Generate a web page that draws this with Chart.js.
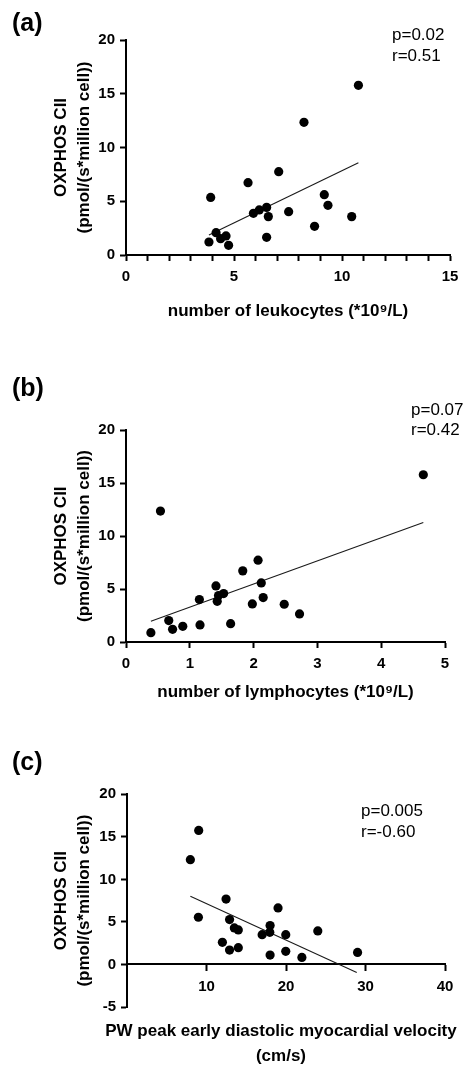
<!DOCTYPE html>
<html>
<head>
<meta charset="utf-8">
<script src="https://cdn.jsdelivr.net/npm/chart.js@4.4.1/dist/chart.umd.min.js"></script>
<style>
  html, body { margin: 0; padding: 0; background: #fff; overflow: hidden; }
  body { width: 467px; height: 1074px; position: relative; font-family: "Liberation Sans", Arial, sans-serif; color: #000; }
  canvas { position: absolute; left: 0; }
  .lbl { position: absolute; font-weight: bold; font-size: 25px; line-height: 25px; white-space: nowrap; }
  .stat { position: absolute; font-size: 17px; line-height: 21px; white-space: nowrap; }
  .xt { position: absolute; left: 281px; transform: translateX(-50%); text-align: center; font-weight: bold; font-size: 17px; line-height: 25px; white-space: nowrap; }
</style>
</head>
<body>
<canvas id="ca" width="467" height="330" style="top:0px"></canvas>
<canvas id="cb" width="467" height="390" style="top:330px"></canvas>
<canvas id="cc" width="467" height="354" style="top:720px"></canvas>

<div class="lbl" style="left:12px;top:10px">(a)</div>
<div class="lbl" style="left:12px;top:375px">(b)</div>
<div class="lbl" style="left:12px;top:749px">(c)</div>

<div class="stat" style="left:392px;top:24px">p=0.02<br>r=0.51</div>
<div class="stat" style="left:411px;top:400px;line-height:20px">p=0.07<br>r=0.42</div>
<div class="stat" style="left:361px;top:801px;line-height:20.5px">p=0.005<br>r=-0.60</div>

<div class="xt" id="xtc" style="top:1018px"></div>

<script>
// ---------- data ----------
const yTitle = ['OXPHOS CII', '(pmol/(s*million cell))'];

// (a) leukocytes
const leukocytes = [3.92, 3.84, 4.17, 4.38, 4.63, 4.75, 5.65, 5.90, 6.17, 6.51, 6.59, 6.51, 7.07, 7.53, 8.24, 8.73, 9.18, 9.35, 10.45, 10.76];
const oxphosA    = [5.36, 1.21, 2.08, 1.52, 1.77, 0.90, 6.73, 3.88, 4.19, 4.43, 3.57, 1.64, 7.75, 4.03, 12.34, 2.67, 5.61, 4.62, 3.57, 15.78];
const fitAx = [3.84, 10.76];
const fitAy = [1.86, 8.59];
const xLabelsA = [0, 5, 10, 15];

// (b) lymphocytes
const lymphocytes = [0.39, 0.54, 0.67, 0.73, 0.89, 1.16, 1.15, 1.41, 1.43, 1.45, 1.53, 1.64, 1.83, 1.98, 2.07, 2.12, 2.15, 2.48, 2.72, 4.66];
const oxphosB     = [0.88, 12.35, 2.02, 1.20, 1.48, 1.61, 4.00, 5.29, 3.84, 4.38, 4.57, 1.73, 6.71, 3.59, 7.72, 5.57, 4.19, 3.56, 2.65, 15.78];
const fitBx = [0.39, 4.66];
const fitBy = [1.95, 11.28];
const xLabelsB = [0, 1, 2, 3, 4, 5];

// (c) PW peak early diastolic myocardial velocity
const velocity = [7.97, 9.02, 8.98, 12.46, 12.0, 12.9, 12.9, 13.5, 14.0, 14.0, 17.0, 18.0, 17.96, 18.0, 19.0, 19.97, 19.97, 22.0, 24.0, 29.0];
const oxphosC  = [12.32, 15.75, 5.55, 7.68, 2.60, 5.28, 1.69, 4.29, 4.06, 1.97, 3.50, 4.57, 3.78, 1.10, 6.65, 3.50, 1.54, 0.83, 3.94, 1.42];
const fitCx = [7.97, 28.9];
const fitCy = [8.03, -0.94];
const xLabelsC = [10, 20, 30, 40];
const xTitleC = ['PW peak early diastolic myocardial velocity', '(cm/s)'];

const yLabels = [-5, 0, 5, 10, 15, 20];

// ---------- helpers ----------
const FAMILY = '"Liberation Sans", Arial, sans-serif';
const tickFont = { family: FAMILY, size: 15, weight: 'bold' };
const titleFont = { family: FAMILY, size: 17, weight: 'bold', lineHeight: 1.2 };
const yTitleFont = { family: FAMILY, size: 17, weight: 'bold', lineHeight: 1.38 };

function pts(xs, ys) { return xs.map((x, i) => ({ x: x, y: ys[i] })); }

function axisGrid() {
  return { display: true, drawOnChartArea: false, drawTicks: true, tickLength: 6, tickWidth: 2, tickColor: '#000' };
}

function makeChart(id, o) {
  return new Chart(document.getElementById(id), {
    type: 'scatter',
    data: {
      datasets: [
        { data: pts(o.xs, o.ys), pointRadius: 4.6, pointHoverRadius: 4.6, backgroundColor: '#000', borderWidth: 0 },
        { data: pts(o.fx, o.fy), showLine: true, pointRadius: 0, borderColor: '#1a1a1a', borderWidth: 1.1, fill: false }
      ]
    },
    options: {
      responsive: false,
      animation: false,
      devicePixelRatio: 1,
      layout: { padding: o.pad },
      plugins: { legend: { display: false }, tooltip: { enabled: false } },
      scales: {
        x: {
          type: 'linear', min: o.xmin, max: o.xmax,
          position: o.xpos || 'bottom',
          afterBuildTicks: o.xFilter ? (s) => { s.ticks = s.ticks.filter(t => o.xFilter.includes(t.value)); } : undefined,
          ticks: {
            stepSize: o.xstep, autoSkip: false, maxRotation: 0, minRotation: 0,
            color: '#000', font: tickFont, padding: 7,
            callback: (v) => o.xLabels.includes(v) ? String(v) : ''
          },
          grid: axisGrid(),
          border: { display: true, color: '#000', width: 2 },
          title: { display: !!o.xTitle, text: o.xTitle || '', color: '#000', font: titleFont, padding: o.xTitlePad || 0 },
          afterFit: (s) => { s.height = o.xH; }
        },
        y: {
          type: 'linear', min: o.ymin, max: 20,
          ticks: {
            stepSize: 5, autoSkip: false, color: '#000', font: tickFont, padding: 5,
            callback: (v) => yLabels.includes(v) ? String(v) : ''
          },
          grid: axisGrid(),
          border: { display: true, color: '#000', width: 2 },
          title: { display: true, text: yTitle, color: '#000', font: yTitleFont, padding: { top: 49.3, bottom: 0 } },
          afterFit: (s) => { s.width = o.yW; }
        }
      }
    }
  });
}

makeChart('ca', {
  xs: leukocytes, ys: oxphosA, fx: fitAx, fy: fitAy,
  xmin: 0, xmax: 15, xstep: 1, xLabels: xLabelsA, ymin: 0,
  xTitle: 'number of leukocytes (*10\u2079/L)', xTitlePad: { top: 0, bottom: 8.8 },
  xH: 75, yW: 126, pad: { left: 0, right: 17, top: 40, bottom: 0 }
});

makeChart('cb', {
  xs: lymphocytes, ys: oxphosB, fx: fitBx, fy: fitBy,
  xmin: 0, xmax: 5, xstep: 1, xLabels: xLabelsB, ymin: 0,
  xTitle: 'number of lymphocytes (*10\u2079/L)', xTitlePad: { top: 0, bottom: 17.8 },
  xH: 78, yW: 126, pad: { left: 0, right: 22, top: 100, bottom: 0 }
});

makeChart('cc', {
  xs: velocity, ys: oxphosC, fx: fitCx, fy: fitCy,
  xmin: 0, xmax: 40, xstep: 10, xLabels: xLabelsC, xFilter: xLabelsC, ymin: -5,
  xpos: { y: 0 },
  xH: 67, yW: 127, pad: { left: 0, right: 22, top: 74.3, bottom: 67 }
});

// x-axis title of panel (c), wider than its plot area
(function () {
  const el = document.getElementById('xtc');
  xTitleC.forEach((line, i) => {
    if (i) el.appendChild(document.createElement('br'));
    el.appendChild(document.createTextNode(line));
  });
})();
</script>
</body>
</html>
